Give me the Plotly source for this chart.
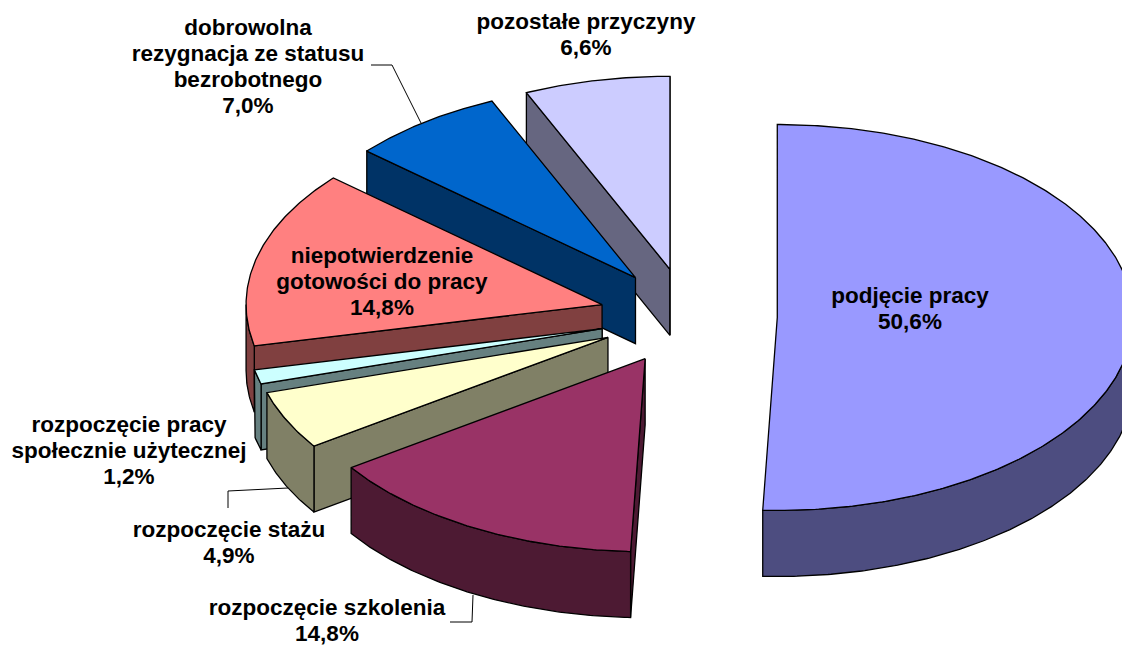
import math
import plotly.graph_objects as go

categories = ["podjęcie pracy", "rozpoczęcie szkolenia", "rozpoczęcie stażu",
              "rozpoczęcie pracy społecznie użytecznej", "niepotwierdzenie gotowości do pracy",
              "dobrowolna rezygnacja ze statusu bezrobotnego", "pozostałe przyczyny"]
values = [50.6, 14.8, 4.9, 1.2, 14.8, 7.0, 6.6]
top_colors = ["#9999FF", "#993366", "#FFFFCC", "#CCFFFF", "#FF8080", "#0066CC", "#CCCCFF"]
side_colors = ["#4D4D80", "#4D1A33", "#808066", "#668080", "#804040", "#003366", "#666680"]
label_lines = [["podjęcie pracy"], ["rozpoczęcie szkolenia"], ["rozpoczęcie stażu"],
               ["rozpoczęcie pracy", "społecznie użytecznej"],
               ["niepotwierdzenie", "gotowości do pracy"],
               ["dobrowolna", "rezygnacja ze statusu", "bezrobotnego"], ["pozostałe przyczyny"]]
label_anchor = [(910, 297), (327, 609.5), (229, 531), (129, 426), (382, 257), (248, 29), (586, 23)]
LINE_STEP = 26.2

CX, CY, RX, RY, DEPTH, EXPLODE = 688.3, 316.5, 356, 193, 66, 0.25
leaders = [[(371, 65), (392, 65), (421, 123)],
           [(228, 508), (228, 491), (288, 488)],
           [(450, 622), (472, 622), (473, 595)]]


def pt(c, a):
    t = math.radians(a)
    return c[0] + RX * math.sin(t), c[1] - RY * math.cos(t)


def arc(c, a0, a1):
    n = max(2, int(abs(a1 - a0) * 2))
    return [pt(c, a0 + (a1 - a0) * i / n) for i in range(n + 1)]


def poly(fig, pts, fill):
    pts = list(pts) + [pts[0]]
    fig.add_trace(go.Scatter(x=[p[0] for p in pts], y=[p[1] for p in pts], mode="lines",
                             fill="toself", fillcolor=fill, line=dict(color="black", width=1.3),
                             hoverinfo="skip", showlegend=False))


total = sum(values)
spans, acc = [], 0.0
for v in values:
    spans.append((acc, acc + v / total * 360))
    acc = spans[-1][1]

fig = go.Figure()
for i in range(len(values) - 1, -1, -1):
    a0, a1 = spans[i]
    mid = math.radians((a0 + a1) / 2)
    c = (CX + RX * EXPLODE * math.sin(mid), CY - RY * EXPLODE * math.cos(mid))
    down = lambda p: (p[0], p[1] + DEPTH)
    start_visible = math.sin(math.radians(a0)) < 0
    end_visible = a1 <= 180.0 or a1 >= 359.9
    if start_visible:
        e = pt(c, a0)
        poly(fig, [c, e, down(e), down(c)], side_colors[i])
    if end_visible:
        e = pt(c, a1)
        poly(fig, [c, e, down(e), down(c)], side_colors[i])
    lo, hi = max(a0, 90), min(a1, 270)
    if lo < hi:
        front = arc(c, lo, hi)
        poly(fig, front + [down(p) for p in reversed(front)], side_colors[i])
    poly(fig, [c] + arc(c, a0, a1), top_colors[i])

for seg in leaders:
    fig.add_trace(go.Scatter(x=[p[0] for p in seg], y=[p[1] for p in seg], mode="lines",
                             line=dict(color="black", width=1), hoverinfo="skip", showlegend=False))

tx, ty, tt = [], [], []
for lines, v, (x, y) in zip(label_lines, values, label_anchor):
    rows = lines + [f"{v:.1f}%".replace(".", ",")]
    for k, row in enumerate(rows):
        tx.append(x)
        ty.append(y + k * LINE_STEP)
        tt.append(f"<b>{row}</b>")
fig.add_trace(go.Scatter(x=tx, y=ty, text=tt, mode="text", textposition="middle center",
                         textfont=dict(family="Liberation Sans", size=22.5, color="black"),
                         hoverinfo="skip", showlegend=False, cliponaxis=False))

fig.update_layout(width=1122, height=645, margin=dict(l=0, r=0, t=0, b=0),
                  paper_bgcolor="white", plot_bgcolor="white",
                  xaxis=dict(range=[0, 1122], visible=False, fixedrange=True),
                  yaxis=dict(range=[645, 0], visible=False, fixedrange=True))
fig.write_html("out.html", config=dict(displayModeBar=False),
               post_script="document.body.style.margin='0';document.body.style.overflow='hidden';")
